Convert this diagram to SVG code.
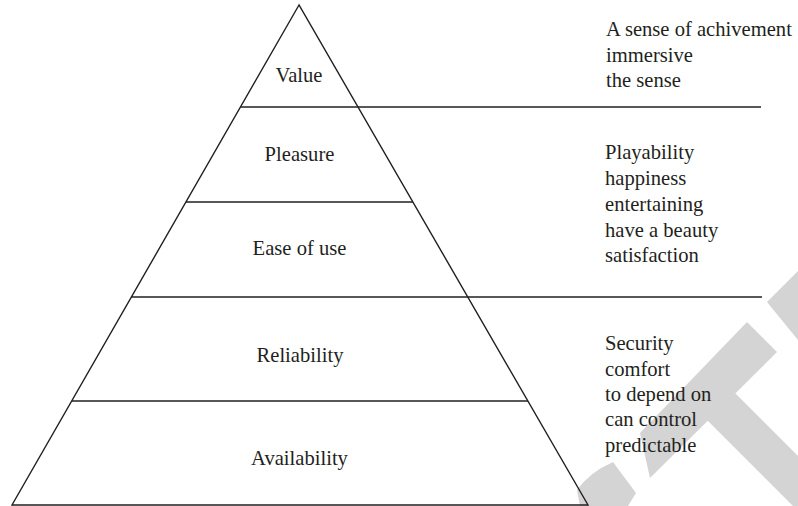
<svg xmlns="http://www.w3.org/2000/svg" width="798" height="506" viewBox="0 0 798 506">
  <style>
    .ln { stroke: #231f20; stroke-width: 1.4; fill: none; }
    .lbl { font-family: "Liberation Serif", "Times New Roman", serif; font-size: 20.6px; fill: #231f20; }
    .mid { text-anchor: middle; }
    .wm { fill: #d4d4d4; }
  </style>
  <rect width="798" height="506" fill="#ffffff"/>

  <!-- light grey background mark, lower right -->
  <g id="mark">
    <path class="wm" d="M 580,506 L 577,490 Q 590,472 613,462 L 636,493 L 628,506 Z"/>
    <polygon class="wm" points="640,433 747,322 777,352 650,478"/>
    <polygon class="wm" points="735,393 798,456 798,511 707,420"/>
    <polygon class="wm" points="767,302 798,271 798,340"/>
  </g>

  <!-- pyramid outline -->
  <g id="pyramid">
    <polygon class="ln" points="299,5 12,505 588,505"/>
  </g>

  <!-- layer dividers; two of them run out to the right column -->
  <g id="dividers">
    <line class="ln" x1="240.5" y1="107" x2="761" y2="107"/>
    <line class="ln" x1="186" y1="202" x2="413" y2="202"/>
    <line class="ln" x1="131" y1="297" x2="762" y2="297"/>
    <line class="ln" x1="72" y1="401" x2="528" y2="401"/>
  </g>

  <g id="layer-value"><text class="lbl mid" x="299" y="82">Value</text></g>
  <g id="layer-pleasure"><text class="lbl mid" x="299.5" y="161">Pleasure</text></g>
  <g id="layer-ease"><text class="lbl mid" x="299.5" y="255">Ease of use</text></g>
  <g id="layer-reliability"><text class="lbl mid" x="300" y="362">Reliability</text></g>
  <g id="layer-availability"><text class="lbl mid" x="299.5" y="465">Availability</text></g>

  <!-- descriptions on the right -->
  <g id="desc-top">
    <text class="lbl" x="606" y="36">A sense of achivement</text>
    <text class="lbl" x="606" y="62">immersive</text>
    <text class="lbl" x="606" y="87">the sense</text>
  </g>
  <g id="desc-middle">
    <text class="lbl" x="605" y="159">Playability</text>
    <text class="lbl" x="605" y="185">happiness</text>
    <text class="lbl" x="605" y="211">entertaining</text>
    <text class="lbl" x="605" y="237">have a beauty</text>
    <text class="lbl" x="605" y="262">satisfaction</text>
  </g>
  <g id="desc-bottom">
    <text class="lbl" x="605" y="350">Security</text>
    <text class="lbl" x="605" y="376">comfort</text>
    <text class="lbl" x="605" y="401">to depend on</text>
    <text class="lbl" x="605" y="426">can control</text>
    <text class="lbl" x="605" y="452">predictable</text>
  </g>
</svg>
